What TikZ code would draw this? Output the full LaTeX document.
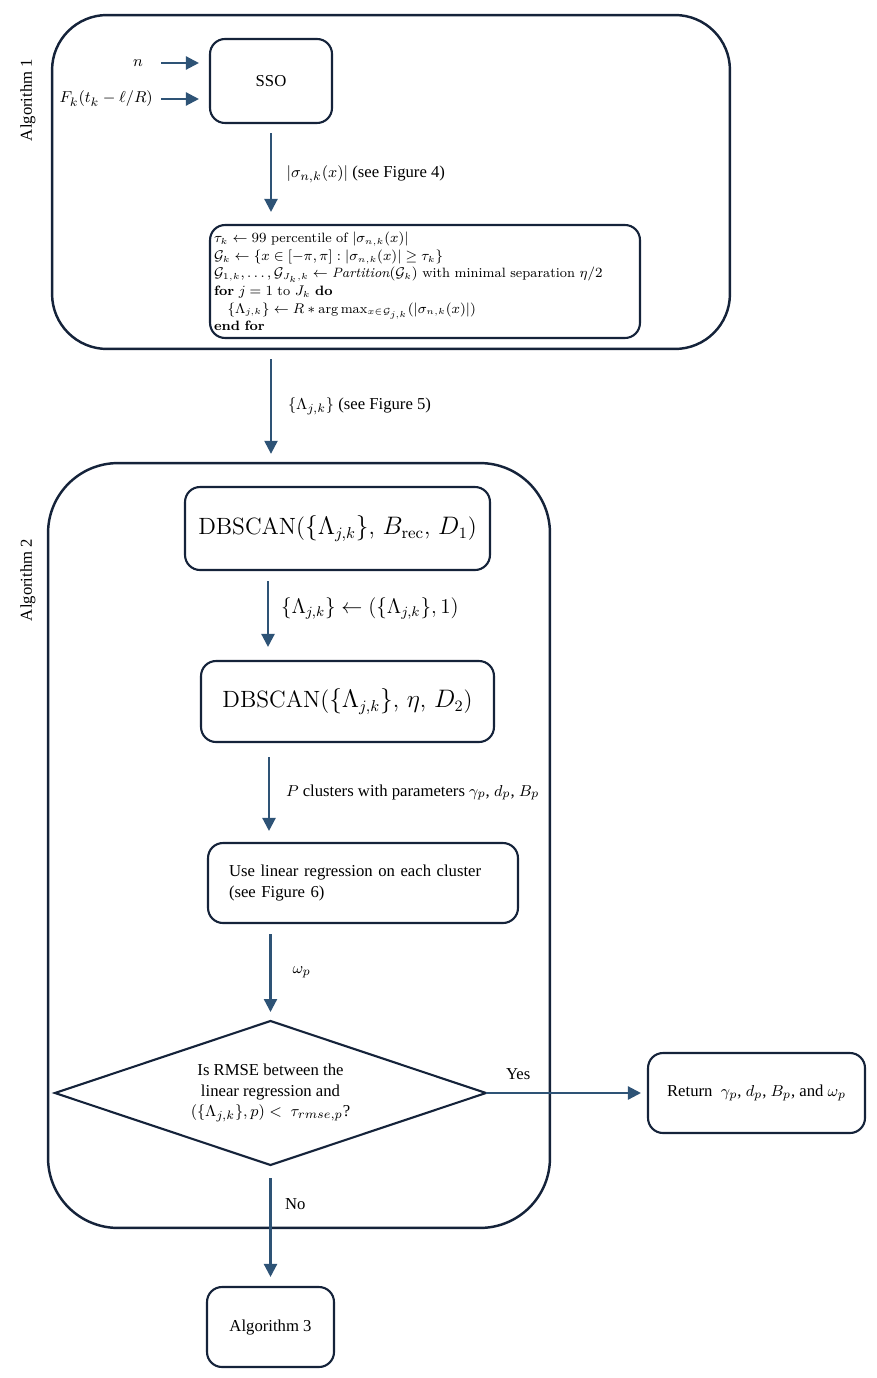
\documentclass[tikz,border=0pt]{standalone}
\usepackage{amsmath,amssymb}
\usepackage{fontspec}
\usetikzlibrary{arrows.meta,shapes.geometric,positioning}
\newfontfamily\cambfont{Liberation Serif}
\definecolor{framecol}{HTML}{15233A}
\definecolor{arrowcol}{HTML}{2E5376}
\tikzset{
  frame/.style={draw=framecol,line width=1.4pt,inner sep=0pt},
  box/.style={draw=framecol,line width=1.2pt,rounded corners=0.3cm,align=center,
    font=\cambfont\fontsize{9.5}{11.6}\selectfont},
  arr/.style={draw=arrowcol,line width=1.3pt,-{Triangle[length=0.26cm,width=0.26cm]}},
  lab/.style={font=\cambfont\fontsize{9.5}{11.6}\selectfont},
}
\begin{document}
\begin{tikzpicture}[x=0.02cm,y=-0.02cm]
  \useasboundingbox (0,0) rectangle (876,1378);
  % Algorithm 1
  \node[frame,rounded corners=1.1cm,minimum width=13.56cm,minimum height=6.68cm] (alg1) at (391,182) {};
  \node[lab,rotate=90] (alg1lab) at (28,100) {Algorithm 1};
  \node[box,minimum width=2.44cm,minimum height=1.68cm] (sso) at (271,81) {SSO};
  \node[lab] (nin) at (138,63) {$n$};
  \node[lab,anchor=east] (fin) at (159,99) {$F_k(t_k-\ell/R)$};
  \draw[arr,shorten <=0.04cm,shorten >=0.2cm] (nin.east -| fin.east) -- (nin.east -| sso.west);
  \draw[arr,shorten <=0.04cm,shorten >=0.2cm] (fin.east) -- (fin.east -| sso.west);
  \node[box,minimum width=8.6cm,minimum height=2.26cm,text width=8.44cm,align=left,
    inner xsep=0.08cm,font=\fontsize{7.7}{10}\selectfont] (code) at (425,281.5)
    {$\tau_k \leftarrow 99$ percentile of $|\sigma_{n,k}(x)|$\\
     $\mathcal{G}_k \leftarrow \{x\in[-\pi,\pi] : |\sigma_{n,k}(x)|\geq\tau_k\}$\\
     $\mathcal{G}_{1,k},\ldots,\mathcal{G}_{J_k,k} \leftarrow \mathit{Partition}(\mathcal{G}_k)$ with minimal separation $\eta/2$\\
     \textbf{for} $j=1$ to $J_k$ \textbf{do}\\
     \hspace*{1em}$\{\Lambda_{j,k}\} \leftarrow R * \arg\max_{x\in\mathcal{G}_{j,k}}(|\sigma_{n,k}(x)|)$\\
     \textbf{end for}};
  \draw[arr,shorten <=0.18cm,shorten >=0.24cm] (sso.south) -- (sso.south |- code.north)
    node[midway,right=0.17cm,lab] {$|\sigma_{n,k}(x)|$ (see Figure 4)};
  % Algorithm 2
  \node[frame,rounded corners=1.4cm,minimum width=10.04cm,minimum height=15.3cm] (alg2) at (299,845.5) {};
  \node[lab,rotate=90] (alg2lab) at (28,580) {Algorithm 2};
  \draw[arr,shorten <=0.18cm,shorten >=0.16cm] (alg1.south -| sso) -- (alg2.north -| sso)
    node[midway,right=0.2cm,lab] {$\{\Lambda_{j,k}\}$ (see Figure 5)};
  \node[box,minimum width=6.1cm,minimum height=1.66cm,font=\fontsize{13.4}{16}\selectfont] (dbs1) at (337.5,528.5)
    {DBSCAN($\{\Lambda_{j,k}\}$, $B_{\mathrm{rec}}$, $D_1$)};
  \node[box,minimum width=5.86cm,minimum height=1.62cm,font=\fontsize{13.4}{16}\selectfont] (dbs2) at (347.5,701.5)
    {DBSCAN($\{\Lambda_{j,k}\}$, $\eta$, $D_2$)};
  \draw[arr,shorten <=0.2cm,shorten >=0.26cm] (dbs1.south -| 268,0) -- (dbs2.north -| 268,0)
    node[pos=0.42,right=0.12cm,font=\fontsize{11.5}{14}\selectfont] {$\{\Lambda_{j,k}\} \leftarrow (\{\Lambda_{j,k}\},1)$};
  \node[box,minimum width=6.2cm,minimum height=1.6cm,text width=5.36cm,align=left,inner xsep=0.42cm] (linreg) at (363,883)
    {Use linear regression on each cluster\\(see Figure 6)};
  \draw[arr,shorten <=0.28cm,shorten >=0.22cm] (dbs2.south -| 269,0) -- (linreg.north -| 269,0)
    node[midway,right=0.2cm,lab] {$P$ clusters with parameters $\gamma_p$, $d_p$, $B_p$};
  % decision
  \node[lab,align=center] (test) at (270.5,1093)
    {Is RMSE between the\\linear regression and\\$(\{\Lambda_{j,k}\},p) <\ \tau_{rmse,p}$?};
  \coordinate (testN) at (270.5,1021);
  \coordinate (testS) at (270.5,1165);
  \coordinate (testW) at (55,1093);
  \coordinate (testE) at (486,1093);
  \draw[framecol,line width=1.2pt,line join=miter] (testW) -- (testN) -- (testE) -- (testS) -- cycle;
  \draw[arr,shorten <=0.2cm,shorten >=0.18cm] (linreg.south -| testN) -- (testN)
    node[midway,right=0.3cm,lab] {$\omega_p$};
  % results
  \node[box,minimum width=4.34cm,minimum height=1.6cm] (ret) at (756.5,1093)
    {Return\ \ $\gamma_p$, $d_p$, $B_p$, and $\omega_p$};
  \node[box,minimum width=2.54cm,minimum height=1.6cm] (alg3) at (270.5,1327) {Algorithm 3};
  \draw[arr,shorten >=0.12cm] (testE) -- (ret.west)
    node[pos=0.2,above=0.12cm,lab] {Yes};
  \draw[arr,shorten <=0.26cm,shorten >=0.18cm] (testS) -- (alg3.north)
    node[pos=0.32,right=0.15cm,lab] {No};
\end{tikzpicture}
\end{document}
